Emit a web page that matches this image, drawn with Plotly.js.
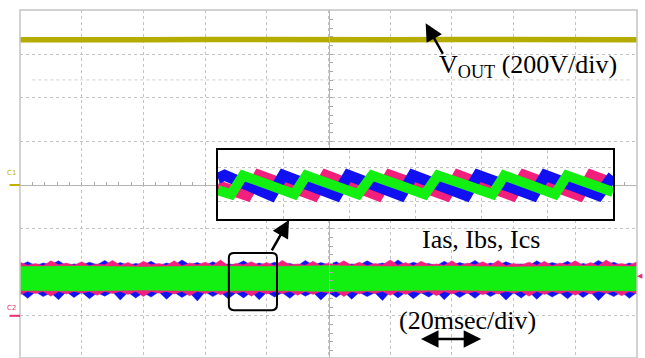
<!DOCTYPE html>
<html>
<head>
<meta charset="utf-8">
<script src="https://cdn.plot.ly/plotly-3.0.1.min.js"></script>
<style>html,body{margin:0;padding:0;background:#fff;}#chart{width:645px;height:358px;}</style>
</head>
<body>
<div id="chart"></div>
<script>
// ---- main scope traces: time in ms (20 ms/div), values in divisions ----
const voutTime = [-100,-80,-60,-40,-20,0,20,40,60,80,100];
const voutDiv  = [3.33,3.32,3.33,3.34,3.33,3.32,3.33,3.34,3.33,3.32,3.33];

const bandTime = [-100,-97.5,-95,-92.5,-90,-87.5,-85,-82.5,-80,-77.5,-75,-72.5,-70,-67.5,-65,-62.5,-60,-57.5,-55,-52.5,-50,-47.5,-45,-42.5,-40,-37.5,-35,-32.5,-30,-27.5,-25,-22.5,-20,-17.5,-15,-12.5,-10,-7.5,-5,-2.5,0,2.5,5,7.5,10,12.5,15,17.5,20,22.5,25,27.5,30,32.5,35,37.5,40,42.5,45,47.5,50,52.5,55,57.5,60,62.5,65,67.5,70,72.5,75,77.5,80,82.5,85,87.5,90,92.5,95,97.5,100];
const ibUpper = [-1.84,-1.76,-1.85,-1.79,-1.83,-1.74,-1.85,-1.81,-1.84,-1.77,
                 -1.83,-1.73,-1.85,-1.78,-1.84,-1.80,-1.83,-1.75,-1.85,-1.79,
                 -1.84,-1.72,-1.83,-1.78,-1.85,-1.76,-1.84,-1.81,-1.83,-1.74,
                 -1.85,-1.79,-1.84,-1.77,-1.83,-1.80,-1.85,-1.73,-1.84,-1.78,
                 -1.83,-1.76,-1.85,-1.81,-1.84,-1.74,-1.83,-1.79,-1.85,-1.72,
                 -1.84,-1.77,-1.83,-1.80,-1.85,-1.75,-1.84,-1.78,-1.83,-1.73,
                 -1.85,-1.79,-1.84,-1.76,-1.83,-1.81,-1.85,-1.74,-1.84,-1.78,
                 -1.83,-1.75,-1.85,-1.80,-1.84,-1.73,-1.83,-1.77,-1.85,-1.79,-1.84];
const ibLower = [-2.46,-2.60,-2.45,-2.56,-2.47,-2.63,-2.45,-2.58,-2.46,-2.61,
                 -2.47,-2.55,-2.45,-2.64,-2.46,-2.59,-2.47,-2.57,-2.45,-2.62,
                 -2.46,-2.58,-2.47,-2.66,-2.45,-2.56,-2.46,-2.61,-2.47,-2.59,
                 -2.45,-2.63,-2.46,-2.57,-2.47,-2.60,-2.45,-2.55,-2.46,-2.64,
                 -2.47,-2.58,-2.45,-2.62,-2.46,-2.56,-2.47,-2.65,-2.45,-2.59,
                 -2.46,-2.61,-2.47,-2.57,-2.45,-2.63,-2.46,-2.58,-2.47,-2.60,
                 -2.45,-2.56,-2.46,-2.64,-2.47,-2.59,-2.45,-2.62,-2.46,-2.57,
                 -2.47,-2.61,-2.45,-2.58,-2.46,-2.65,-2.47,-2.56,-2.45,-2.60,-2.46];
const iaUpper = [-1.77,-1.84,-1.80,-1.85,-1.74,-1.83,-1.79,-1.84,-1.76,-1.85,
                 -1.81,-1.83,-1.73,-1.84,-1.78,-1.85,-1.75,-1.83,-1.80,-1.84,
                 -1.74,-1.85,-1.79,-1.83,-1.77,-1.84,-1.72,-1.85,-1.80,-1.83,
                 -1.76,-1.84,-1.78,-1.85,-1.73,-1.83,-1.81,-1.84,-1.75,-1.85,
                 -1.79,-1.83,-1.74,-1.84,-1.77,-1.85,-1.80,-1.83,-1.72,-1.84,
                 -1.78,-1.85,-1.75,-1.83,-1.81,-1.84,-1.74,-1.85,-1.79,-1.83,
                 -1.76,-1.84,-1.73,-1.85,-1.80,-1.83,-1.77,-1.84,-1.75,-1.85,
                 -1.79,-1.83,-1.74,-1.84,-1.78,-1.85,-1.72,-1.83,-1.80,-1.84,-1.76];
const iaLower = [-2.52,-2.44,-2.49,-2.44,-2.55,-2.44,-2.50,-2.44,-2.48,-2.44,
                 -2.53,-2.44,-2.49,-2.44,-2.51,-2.44,-2.56,-2.44,-2.48,-2.44,
                 -2.50,-2.44,-2.54,-2.44,-2.49,-2.44,-2.52,-2.44,-2.48,-2.44,
                 -2.55,-2.44,-2.50,-2.44,-2.49,-2.44,-2.53,-2.44,-2.51,-2.44,
                 -2.48,-2.44,-2.56,-2.44,-2.50,-2.44,-2.49,-2.44,-2.53,-2.44,
                 -2.51,-2.44,-2.48,-2.44,-2.54,-2.44,-2.50,-2.44,-2.49,-2.44,
                 -2.52,-2.44,-2.50,-2.44,-2.48,-2.44,-2.55,-2.44,-2.51,-2.44,
                 -2.49,-2.44,-2.53,-2.44,-2.50,-2.44,-2.48,-2.44,-2.54,-2.44,-2.50];
const icTime  = [-100,-80,-60,-40,-20,0,20,40,60,80,100];
const icUpper = [-1.87,-1.86,-1.88,-1.86,-1.87,-1.85,-1.87,-1.86,-1.88,-1.86,-1.87];
const icLower = [-2.42,-2.43,-2.41,-2.43,-2.42,-2.44,-2.42,-2.41,-2.43,-2.42,-2.43];

// ---- zoomed inset (inset divisions) ----
const zoomWindowMs = [-32.3, -16.7];
const zoomWindowDiv = [-2.87, -1.56];
const icZoomX = [0,0.20,0.38,1.16,1.34,2.13,2.34,3.14,3.34,4.17,4.35,5.12,5.30,6.0];
const icZoomY = [-0.50,-0.85,0.78,-0.85,0.78,-0.85,0.78,-0.85,0.78,-0.85,0.78,-0.85,0.78,-0.65];
const ibZoomX = [0,0.10,0.81,0.99,1.80,1.98,2.78,2.96,3.77,3.95,4.79,4.97,5.78,5.96,6.0];
const ibZoomY = [0.55,0.80,-0.95,0.80,-0.95,0.80,-0.95,0.80,-0.95,0.80,-0.95,0.80,-0.95,0.80,0.75];
const iaZoomX = [0,0.44,0.62,1.46,1.64,2.43,2.61,3.47,3.65,4.47,4.65,5.49,5.67,6.0];
const iaZoomY = [-0.10,-0.95,0.80,-0.95,0.80,-0.95,0.80,-0.95,0.80,-0.95,0.80,-0.95,0.80,0.10];

const COL_V = '#b4ad00', COL_A = '#f2207c', COL_B = '#1010f0', COL_C = '#12f012';

const traces = [
  {x: voutTime, y: voutDiv, type:'scatter', mode:'lines', line:{color:COL_V, width:5.5}, hoverinfo:'skip'},
  {x: bandTime, y: ibLower, type:'scatter', mode:'lines', line:{color:COL_B, width:0.5}, hoverinfo:'skip'},
  {x: bandTime, y: ibUpper, type:'scatter', mode:'lines', fill:'tonexty', fillcolor:COL_B, line:{color:COL_B, width:0.5}, hoverinfo:'skip'},
  {x: bandTime, y: iaLower, type:'scatter', mode:'lines', line:{color:COL_A, width:0.5}, hoverinfo:'skip'},
  {x: bandTime, y: iaUpper, type:'scatter', mode:'lines', fill:'tonexty', fillcolor:COL_A, line:{color:COL_A, width:0.5}, hoverinfo:'skip'},
  {x: icTime, y: icLower, type:'scatter', mode:'lines', line:{color:COL_C, width:0.5}, hoverinfo:'skip'},
  {x: icTime, y: icUpper, type:'scatter', mode:'lines', fill:'tonexty', fillcolor:COL_C, line:{color:COL_C, width:0.5}, hoverinfo:'skip'},
  {x: iaZoomX, y: iaZoomY, xaxis:'x2', yaxis:'y2', type:'scatter', mode:'lines', line:{color:COL_A, width:11}, hoverinfo:'skip'},
  {x: ibZoomX, y: ibZoomY, xaxis:'x2', yaxis:'y2', type:'scatter', mode:'lines', line:{color:COL_B, width:11}, hoverinfo:'skip'},
  {x: icZoomX, y: icZoomY, xaxis:'x2', yaxis:'y2', type:'scatter', mode:'lines', line:{color:COL_C, width:10}, hoverinfo:'skip'}
];

const GRID = '#c4c4c4';
const [zx0, zx1] = zoomWindowMs, [zyB, zyT] = zoomWindowDiv;
const rx = 1.6, ry = 0.115;
const roundPath = `M ${zx0+rx},${zyT} L ${zx1-rx},${zyT} Q ${zx1},${zyT} ${zx1},${zyT-ry} L ${zx1},${zyB+ry} Q ${zx1},${zyB} ${zx1-rx},${zyB} L ${zx0+rx},${zyB} Q ${zx0},${zyB} ${zx0},${zyB+ry} L ${zx0},${zyT-ry} Q ${zx0},${zyT} ${zx0+rx},${zyT} Z`;

const serif = {family:'Liberation Serif, Times New Roman, serif', size:26, color:'#000'};

const layout = {
  width:645, height:358,
  margin:{l:20, r:8, t:10, b:0},
  paper_bgcolor:'#fff', plot_bgcolor:'#fff',
  showlegend:false,
  xaxis:{range:[-100,100], dtick:20, tick0:0, showgrid:true, gridcolor:GRID, griddash:'dot', gridwidth:1,
         zeroline:false, showline:true, linecolor:'#b4b4b4', linewidth:1, showticklabels:false,
         ticks:'inside', ticklen:3, tickcolor:'#aaa',
         minor:{dtick:4, ticks:'inside', ticklen:3, tickcolor:'#aaa', showgrid:false},
         anchor:'free', position:0.4971, fixedrange:true},
  yaxis:{range:[-3.968,4.014], dtick:1, tick0:0, showgrid:true, gridcolor:GRID, griddash:'dot', gridwidth:1,
         zeroline:false, showline:true, linecolor:'#b4b4b4', linewidth:1, showticklabels:false,
         ticks:'inside', ticklen:3, tickcolor:'#aaa',
         minor:{dtick:0.2, ticks:'inside', ticklen:3, tickcolor:'#aaa', showgrid:false},
         anchor:'free', position:0.5, fixedrange:true},
  xaxis2:{domain:[0.3209,0.9611], anchor:'y2', range:[0,6], dtick:1, showgrid:true, gridcolor:GRID, griddash:'dot',
          zeroline:false, showline:true, mirror:true, linecolor:'#000', linewidth:2, showticklabels:false, ticks:'', fixedrange:true},
  yaxis2:{domain:[0.3994,0.5977], anchor:'x2', range:[-3,3], dtick:1.5, showgrid:true, gridcolor:GRID, griddash:'dot',
          zeroline:false, showline:true, mirror:true, linecolor:'#000', linewidth:2, showticklabels:false, ticks:'', fixedrange:true},
  shapes:[
    {type:'rect', xref:'paper', yref:'paper', x0:0, x1:1, y0:0, y1:1, line:{color:'#c4c4c4', width:1.5}, layer:'above'},
    {type:'line', xref:'paper', yref:'y', x0:0.02, x1:0.99, y0:2.41, y1:2.41, line:{color:'#cfcfcf', width:1, dash:'dot'}, layer:'below'},
    {type:'path', xref:'x', yref:'y', path:roundPath, line:{color:'#000', width:2}, layer:'above'},
    {type:'line', xref:'paper', yref:'y', x0:-0.017, x1:0, y0:0, y1:0, line:{color:'#c4b000', width:2}},
    {type:'line', xref:'paper', yref:'y', x0:-0.017, x1:0, y0:-3, y1:-3, line:{color:'#e8306c', width:2}}
  ],
  annotations:[
    {xref:'x', yref:'y', x:35.2, y:2.72, xanchor:'left', yanchor:'middle', showarrow:false,
     text:'V<sub>OUT</sub> (200V/div)', font:serif},
    {xref:'x', yref:'y', x:29.7, y:-1.24, xanchor:'left', yanchor:'middle', showarrow:false,
     text:'Ias, Ibs, Ics', font:serif},
    {xref:'x', yref:'y', x:22.3, y:-3.10, xanchor:'left', yanchor:'middle', showarrow:false,
     text:'(20msec/div)', font:serif},
    {xref:'x', yref:'y', x:31.5, y:3.71, ax:18, ay:32, text:'', showarrow:true,
     arrowhead:2, arrowsize:1.4, arrowwidth:2.5, arrowcolor:'#000'},
    {xref:'x', yref:'y', x:-12.8, y:-0.80, ax:-18, ay:32, text:'', showarrow:true,
     arrowhead:2, arrowsize:1.4, arrowwidth:2.5, arrowcolor:'#000'},
    {xref:'x', yref:'y', x:49.5, y:-3.53, axref:'x', ayref:'y', ax:29.5, ay:-3.53, text:'', showarrow:true,
     arrowhead:2, arrowside:'end+start', arrowsize:1.4, arrowwidth:2.5, arrowcolor:'#000'},
    {xref:'paper', yref:'y', x:-0.013, y:0.14, xanchor:'center', yanchor:'bottom', showarrow:false,
     text:'C1', font:{family:'DejaVu Sans', size:7, color:'#c4b000'}},
    {xref:'paper', yref:'y', x:-0.013, y:-2.97, xanchor:'center', yanchor:'bottom', showarrow:false,
     text:'C2', font:{family:'DejaVu Sans', size:7, color:'#e8306c'}},
    {xref:'paper', yref:'y', x:1.011, y:-2.09, xanchor:'right', yanchor:'middle', showarrow:false,
     text:'◀', font:{family:'DejaVu Sans', size:7, color:'#e8306c'}, borderpad:0}
  ]
};

Plotly.newPlot('chart', traces, layout, {displayModeBar:false, staticPlot:true});
</script>
</body>
</html>
